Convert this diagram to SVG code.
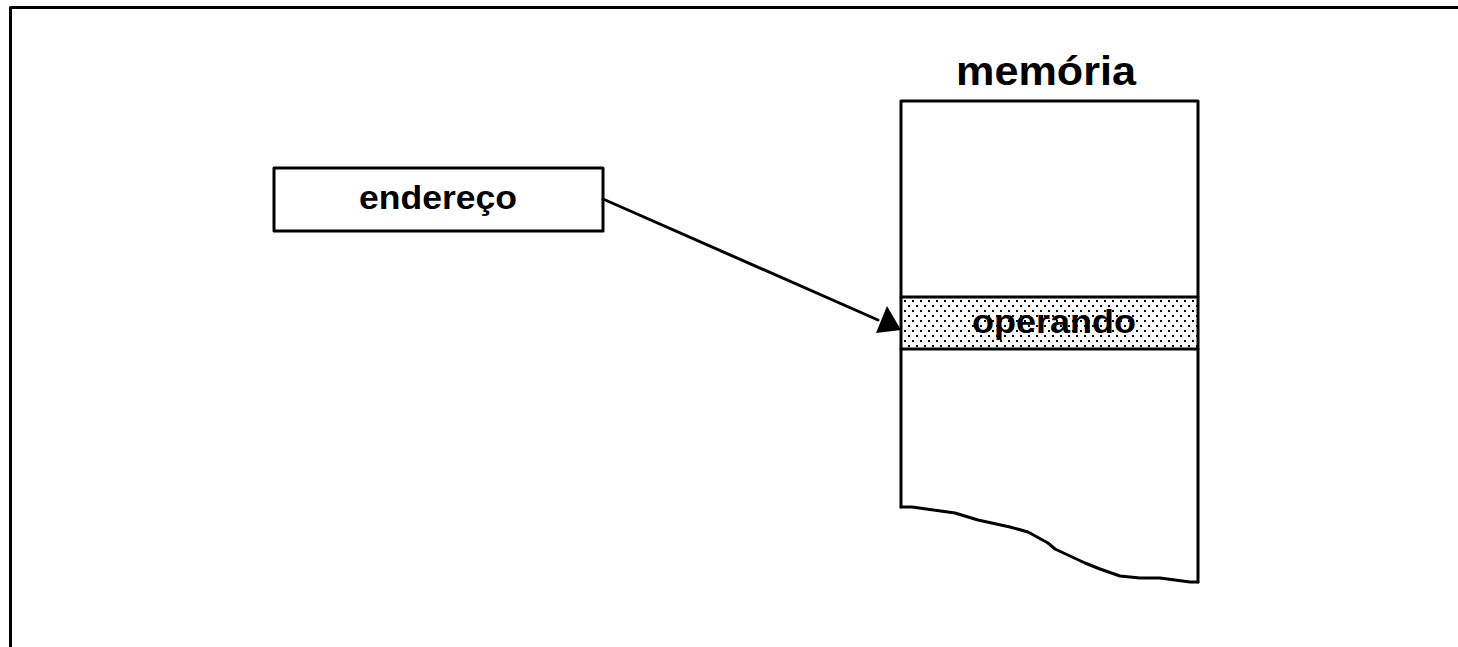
<svg xmlns="http://www.w3.org/2000/svg" width="1458" height="647" viewBox="0 0 1458 647">
<style>
.ln{fill:none;stroke:#000;stroke-width:3;stroke-linejoin:round;stroke-linecap:round}
.t{font-family:"Liberation Sans",Arial,sans-serif;font-weight:bold;fill:#000;text-anchor:middle}
</style>
<defs>
<pattern id="dots" x="903" y="299" width="8" height="10" patternUnits="userSpaceOnUse">
<rect width="8" height="10" fill="#fff"/>
<rect x="1" y="1" width="2" height="2" fill="#000"/>
<rect x="5" y="6" width="2" height="2" fill="#000"/>
</pattern>
</defs>
<rect width="1458" height="647" fill="#fff"/>
<path class="ln" d="M10.5,647 V7.5 H1458" stroke-linecap="butt"/>
<g id="memoria">
<rect x="901" y="297" width="297" height="52" fill="url(#dots)" stroke="none"/>
<path class="ln" d="M901,507 V101 H1198 V582"/>
<path class="ln" d="M901,297 H1198 M901,349 H1198"/>
<path class="ln" d="M901,507 L912,507 L955,513 L978,520 L1010,527 L1028,532 L1048,543 L1055,549 L1070,556 L1085,563 L1100,569 L1120,576 L1140,578 L1160,578 L1190,582 L1198,582"/>
<text class="t" x="1046" y="85" font-size="41" textLength="180" lengthAdjust="spacingAndGlyphs">memória</text>
<text class="t" x="1054" y="333" font-size="34" textLength="164" lengthAdjust="spacingAndGlyphs">operando</text>
</g>
<g id="endereco">
<rect class="ln" x="274" y="168" width="329" height="63" fill="#fff"/>
<text class="t" x="438" y="209" font-size="34" textLength="158" lengthAdjust="spacingAndGlyphs">endereço</text>
</g>
<g id="connectors">
<line x1="603" y1="199" x2="878" y2="320" class="ln" stroke-width="2.5"/>
<path d="M901,330 L876,333 L887,306 z" fill="#000"/>
</g>
</svg>
